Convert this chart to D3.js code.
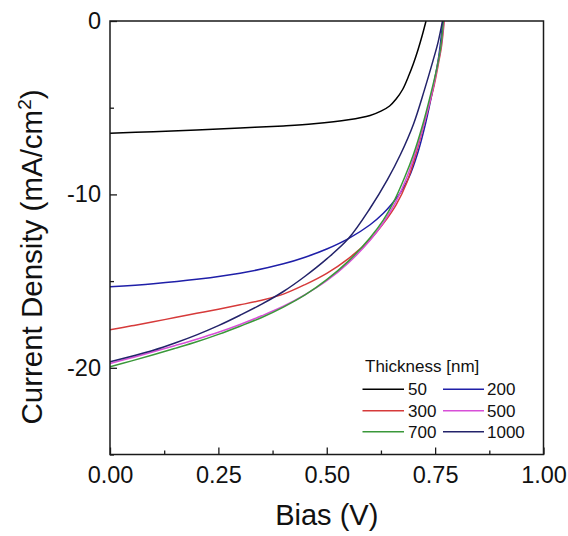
<!DOCTYPE html>
<html>
<head>
<meta charset="utf-8">
<script src="https://cdn.jsdelivr.net/npm/d3@7"></script>
<style>
  html, body { margin: 0; padding: 0; background: #fff; }
  svg { display: block; font-family: "Liberation Sans", Arial, sans-serif; }
</style>
</head>
<body>
<svg id="chart" width="568" height="536"></svg>
<script>
// ---------- data ----------
const seriesNames = ["50", "200", "300", "500", "700", "1000"];
const seriesColors = ["#000000", "#1f1fa8", "#d63a3a", "#d84fd8", "#3a983a", "#23236a"];

// [bias V, current density mA/cm2]
const j50 = [[0,-6.47],[0.1,-6.38],[0.2,-6.28],[0.3,-6.17],[0.4,-6.05],[0.47,-5.93],[0.55,-5.70],[0.6,-5.45],[0.625,-5.2],[0.645,-4.9],[0.66,-4.5],[0.675,-3.95],[0.69,-3.1],[0.70,-2.45],[0.71,-1.7],[0.72,-0.85],[0.729,0]];
const j200 = [[0,-15.33],[0.1,-15.15],[0.2,-14.9],[0.3,-14.55],[0.4,-14.0],[0.45,-13.62],[0.5,-13.15],[0.55,-12.55],[0.6,-11.75],[0.63,-11.1],[0.65,-10.55],[0.67,-9.9],[0.69,-9.0],[0.71,-7.6],[0.728,-5.9],[0.745,-3.9],[0.758,-2.1],[0.768,0]];
const j300 = [[0,-17.8],[0.05,-17.58],[0.1,-17.35],[0.15,-17.1],[0.2,-16.86],[0.25,-16.62],[0.3,-16.37],[0.35,-16.1],[0.4,-15.75],[0.45,-15.2],[0.5,-14.55],[0.55,-13.7],[0.6,-12.6],[0.63,-11.7],[0.66,-10.6],[0.685,-9.3],[0.71,-7.3],[0.728,-5.6],[0.746,-3.9],[0.758,-2.4],[0.765,-1.4],[0.771,0]];
const j500 = [[0,-19.75],[0.05,-19.42],[0.1,-19.08],[0.15,-18.72],[0.2,-18.35],[0.25,-17.95],[0.3,-17.5],[0.35,-17.0],[0.4,-16.45],[0.45,-15.78],[0.5,-14.98],[0.55,-13.95],[0.6,-12.65],[0.63,-11.65],[0.66,-10.4],[0.685,-9.0],[0.71,-7.15],[0.728,-5.6],[0.745,-3.9],[0.757,-2.4],[0.764,-1.4],[0.77,0]];
const j700 = [[0,-19.94],[0.05,-19.6],[0.1,-19.25],[0.15,-18.88],[0.2,-18.5],[0.25,-18.07],[0.3,-17.6],[0.35,-17.1],[0.4,-16.5],[0.45,-15.8],[0.5,-14.92],[0.55,-13.85],[0.6,-12.5],[0.63,-11.5],[0.655,-10.4],[0.68,-9.0],[0.70,-7.7],[0.72,-6.1],[0.74,-4.2],[0.755,-2.6],[0.763,-1.5],[0.769,0]];
const j1000 = [[0,-19.65],[0.05,-19.33],[0.1,-18.99],[0.15,-18.57],[0.2,-18.1],[0.25,-17.57],[0.3,-16.97],[0.35,-16.33],[0.4,-15.6],[0.45,-14.72],[0.5,-13.72],[0.55,-12.55],[0.6,-10.8],[0.64,-9.15],[0.67,-7.7],[0.7,-5.95],[0.725,-4.0],[0.745,-2.3],[0.757,-1.2],[0.767,0]];
const seriesData = [j50, j200, j300, j500, j700, j1000];

const xMajorTicks = [0, 0.25, 0.5, 0.75, 1.0];
const xMinorTicks = [0.125, 0.375, 0.625, 0.875];
const yMajorTicks = [0, -10, -20];
const yMinorTicks = [-5, -15, -25];
const legendTitle = "Thickness [nm]";

// ---------- layout ----------
const pL = 110, pR = 543.5, pT = 21, pB = 454.5;
const svg = d3.select("#chart");

const x = d3.scaleLinear().domain([0, 1]).range([pL, pR]);
const y = d3.scaleLinear().domain([-25, 0]).range([pB, pT]);

// clip
svg.append("defs").append("clipPath").attr("id", "plotclip")
  .append("rect").attr("x", pL).attr("y", pT).attr("width", pR - pL).attr("height", pB - pT);

// curves
const line = d3.line().x(d => x(d[0])).y(d => y(d[1])).curve(d3.curveCatmullRom.alpha(0.5));
const gLines = svg.append("g").attr("clip-path", "url(#plotclip)");
seriesData.forEach((s, i) => {
  gLines.append("path").datum(s)
    .attr("fill", "none")
    .attr("stroke", seriesColors[i])
    .attr("stroke-width", 1.5)
    .attr("d", line);
});

// axes
const axisColor = "#1a1a1a";
function styleAxis(g, fs) {
  g.select(".domain").remove();
  g.selectAll("line").attr("stroke", axisColor).attr("stroke-width", 1.3);
  g.selectAll("text").attr("fill", "#111").attr("font-size", fs)
    .attr("font-family", "'Liberation Sans', Arial, sans-serif");
}
const xAxis = svg.append("g").attr("transform", `translate(0,${pB})`)
  .call(d3.axisBottom(x).tickValues(xMajorTicks).tickSize(-7).tickPadding(12).tickFormat(d3.format(".2f")));
styleAxis(xAxis, 23.5);
const xMinor = svg.append("g").attr("transform", `translate(0,${pB})`)
  .call(d3.axisBottom(x).tickValues(xMinorTicks).tickSize(-4).tickFormat(""));
styleAxis(xMinor, 23);

const yAxis = svg.append("g").attr("transform", `translate(${pL},0)`)
  .call(d3.axisLeft(y).tickValues(yMajorTicks).tickSize(-7).tickPadding(9).tickFormat(d => String(d)));
styleAxis(yAxis, 23.5);
const yMinor = svg.append("g").attr("transform", `translate(${pL},0)`)
  .call(d3.axisLeft(y).tickValues(yMinorTicks).tickSize(-4).tickFormat(""));
styleAxis(yMinor, 23);

// frame
svg.append("rect").attr("x", pL).attr("y", pT).attr("width", pR - pL).attr("height", pB - pT)
  .attr("fill", "none").attr("stroke", axisColor).attr("stroke-width", 1.5);

// axis titles
svg.append("text").attr("x", (pL + pR) / 2).attr("y", 525)
  .attr("text-anchor", "middle").attr("font-size", 29).attr("fill", "#111")
  .text("Bias (V)");

const yt = svg.append("text").attr("transform", "translate(42,257) rotate(-90)")
  .attr("text-anchor", "middle").attr("font-size", 29.5).attr("fill", "#111");
yt.append("tspan").text("Current Density (mA/cm");
yt.append("tspan").attr("font-size", 19).attr("dy", -11).text("2");
yt.append("tspan").attr("dy", 11).text(")");

// legend
const lg = svg.append("g");
lg.append("text").attr("x", 365).attr("y", 371.5).attr("font-size", 17).attr("fill", "#111").text(legendTitle);
const colX = [[362.5, 404, 408], [443, 484, 487]];
const rowY = [389.3, 410.7, 431.7];
seriesNames.forEach((name, i) => {
  const r = Math.floor(i / 2), c = i % 2;
  lg.append("line").attr("x1", colX[c][0]).attr("x2", colX[c][1])
    .attr("y1", rowY[r]).attr("y2", rowY[r])
    .attr("stroke", seriesColors[i]).attr("stroke-width", 1.5);
  lg.append("text").attr("x", colX[c][2]).attr("y", rowY[r] + 6)
    .attr("font-size", 17).attr("fill", "#111").text(name);
});
</script>
</body>
</html>
